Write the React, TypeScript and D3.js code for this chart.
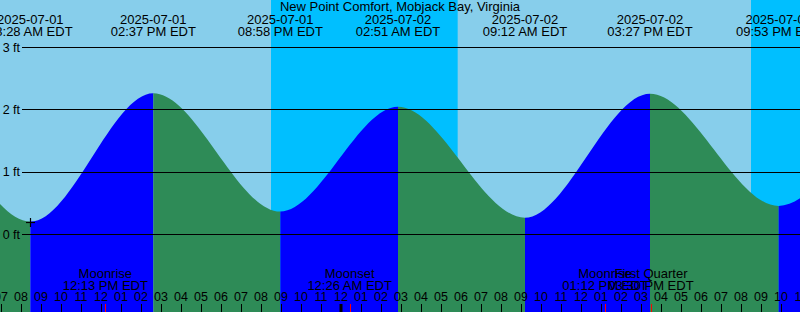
import React from "react";
import * as d3 from "d3";

const title = "New Point Comfort, Mobjack Bay, Virginia";
const viewStart = "2025-07-01T06:57";
const viewEnd = "2025-07-02T22:57";

// tide extremes (the outer ones lie outside the view)
const tideTimes = [
  "2025-06-30T20:05",
  "2025-07-01T02:15",
  "2025-07-01T08:28",
  "2025-07-01T14:37",
  "2025-07-01T20:58",
  "2025-07-02T02:51",
  "2025-07-02T09:12",
  "2025-07-02T15:27",
  "2025-07-02T21:53",
  "2025-07-03T04:05",
  "2025-07-03T10:15",
];
const tideHeights = [0.3, 2.08, 0.2, 2.26, 0.36, 2.04, 0.26, 2.25, 0.45, 2.0, 0.3];

const moonTimes = ["2025-07-01T12:13", "2025-07-02T00:26", "2025-07-02T13:12", "2025-07-02T15:30"];
const moonNames = ["Moonrise", "Moonset", "Moonrise", "First Quarter"];

const nightStarts = ["2025-07-01T20:30", "2025-07-02T20:30"];
const nightEnds = ["2025-07-02T05:50", "2025-07-03T05:51"];

const yTicks = [0, 1, 2, 3];
const nowTime = "2025-07-01T08:28";

const W = 800;
const H = 312;
const DAY = "#87CEEB";
const NIGHT = "#00BFFF";
const FALL = "#2E8B57";
const RISE = "#0000FF";
const FONT = "'Liberation Sans', Arial, sans-serif";

const parse = d3.utcParse("%Y-%m-%dT%H:%M")!;
const fmtDate = d3.utcFormat("%Y-%m-%d");
const fmtTime = d3.utcFormat("%I:%M %p EDT");
const fmtHour = d3.utcFormat("%I");

export default function App() {
  const t0 = parse(viewStart)!;
  const t1 = parse(viewEnd)!;
  const x = d3.scaleUtc().domain([t0, t1]).range([0, W]);
  const y = d3.scaleLinear().domain([0, 3]).range([234, 47]);

  const tides = tideTimes.map((t, i) => ({ t: parse(t)!, h: tideHeights[i] }));
  const area = d3
    .area<{ t: Date; h: number }>()
    .x((d) => x(d.t))
    .y0(H)
    .y1((d) => y(d.h))
    .curve(d3.curveMonotoneX);

  const segments = tides.slice(0, -1).map((d, i) => ({
    x0: x(d.t),
    x1: x(tides[i + 1].t),
    rising: tides[i + 1].h > d.h,
  }));

  const hours = d3.utcHour.range(d3.utcHour.ceil(t0), d3.utcHour.offset(t1, 1));
  const visibleTides = tides.filter((d) => d.t >= t0 && d.t <= t1);
  const moons = moonTimes.map((t, i) => ({ t: parse(t)!, name: moonNames[i] }));
  const nights = nightStarts.map((s, i) => ({ a: parse(s)!, b: parse(nightEnds[i])! }));

  const nowT = parse(nowTime)!;
  const nowIdx = tideTimes.indexOf(nowTime);
  const nx = Math.round(x(nowT)) + 0.5;
  const ny = Math.round(y(tideHeights[nowIdx])) + 0.5;

  return (
    <svg
      width={W}
      height={H}
      style={{ position: "absolute", left: 0, top: 0, display: "block" }}
      fontFamily={FONT}
    >
      <defs>
        <clipPath id="under">
          <path d={area(tides) || ""} />
        </clipPath>
      </defs>
      <rect x={0} y={0} width={W} height={H} fill={DAY} />
      {nights.map((n, i) => (
        <rect key={i} x={x(n.a)} y={0} width={x(n.b) - x(n.a)} height={H} fill={NIGHT} />
      ))}
      <g clipPath="url(#under)">
        {segments.map((s, i) => (
          <rect key={i} x={s.x0} y={0} width={s.x1 - s.x0} height={H} fill={s.rising ? RISE : FALL} />
        ))}
      </g>
      {yTicks.map((v) => (
        <g key={v}>
          <line x1={22} x2={W} y1={Math.round(y(v)) + 0.5} y2={Math.round(y(v)) + 0.5} stroke="#000" strokeWidth={1} />
          <text x={20} y={y(v) + 4.5} fontSize={12.5} textAnchor="end" fill="#000">
            {v} ft
          </text>
        </g>
      ))}
      <text x={W / 2} y={11} fontSize={13} textAnchor="middle" fill="#000">
        {title}
      </text>
      {visibleTides.map((d, i) => (
        <g key={i} fontSize={13} textAnchor="middle" fill="#000">
          <text x={x(d.t)} y={24}>{fmtDate(d.t)}</text>
          <text x={x(d.t)} y={36}>{fmtTime(d.t)}</text>
        </g>
      ))}
      {moons.map((m, i) => (
        <g key={i} fontSize={13} textAnchor="middle" fill="#000">
          <text x={x(m.t)} y={278}>{m.name}</text>
          <text x={x(m.t)} y={289.5}>{fmtTime(m.t)}</text>
        </g>
      ))}
      {hours.map((h, i) => {
        const hx = Math.round(x(h));
        const midnight = h.getUTCHours() === 0;
        return (
          <g key={i}>
            <text x={hx} y={301} fontSize={12.5} textAnchor="middle" fill="#000">
              {fmtHour(h)}
            </text>
            <line
              x1={midnight ? hx : hx + 0.5}
              x2={midnight ? hx : hx + 0.5}
              y1={304}
              y2={H}
              stroke="#000"
              strokeWidth={midnight ? 3 : 1}
            />
          </g>
        );
      })}
      {moons.map((m, i) => (
        <line key={i} x1={Math.round(x(m.t)) + 0.5} x2={Math.round(x(m.t)) + 0.5} y1={304} y2={H} stroke="red" strokeWidth={1} />
      ))}
      <g stroke="#000" strokeWidth={1.2}>
        <line x1={nx - 4.5} x2={nx + 4.5} y1={ny} y2={ny} />
        <line x1={nx} x2={nx} y1={ny - 4.5} y2={ny + 4.5} />
      </g>
    </svg>
  );
}
